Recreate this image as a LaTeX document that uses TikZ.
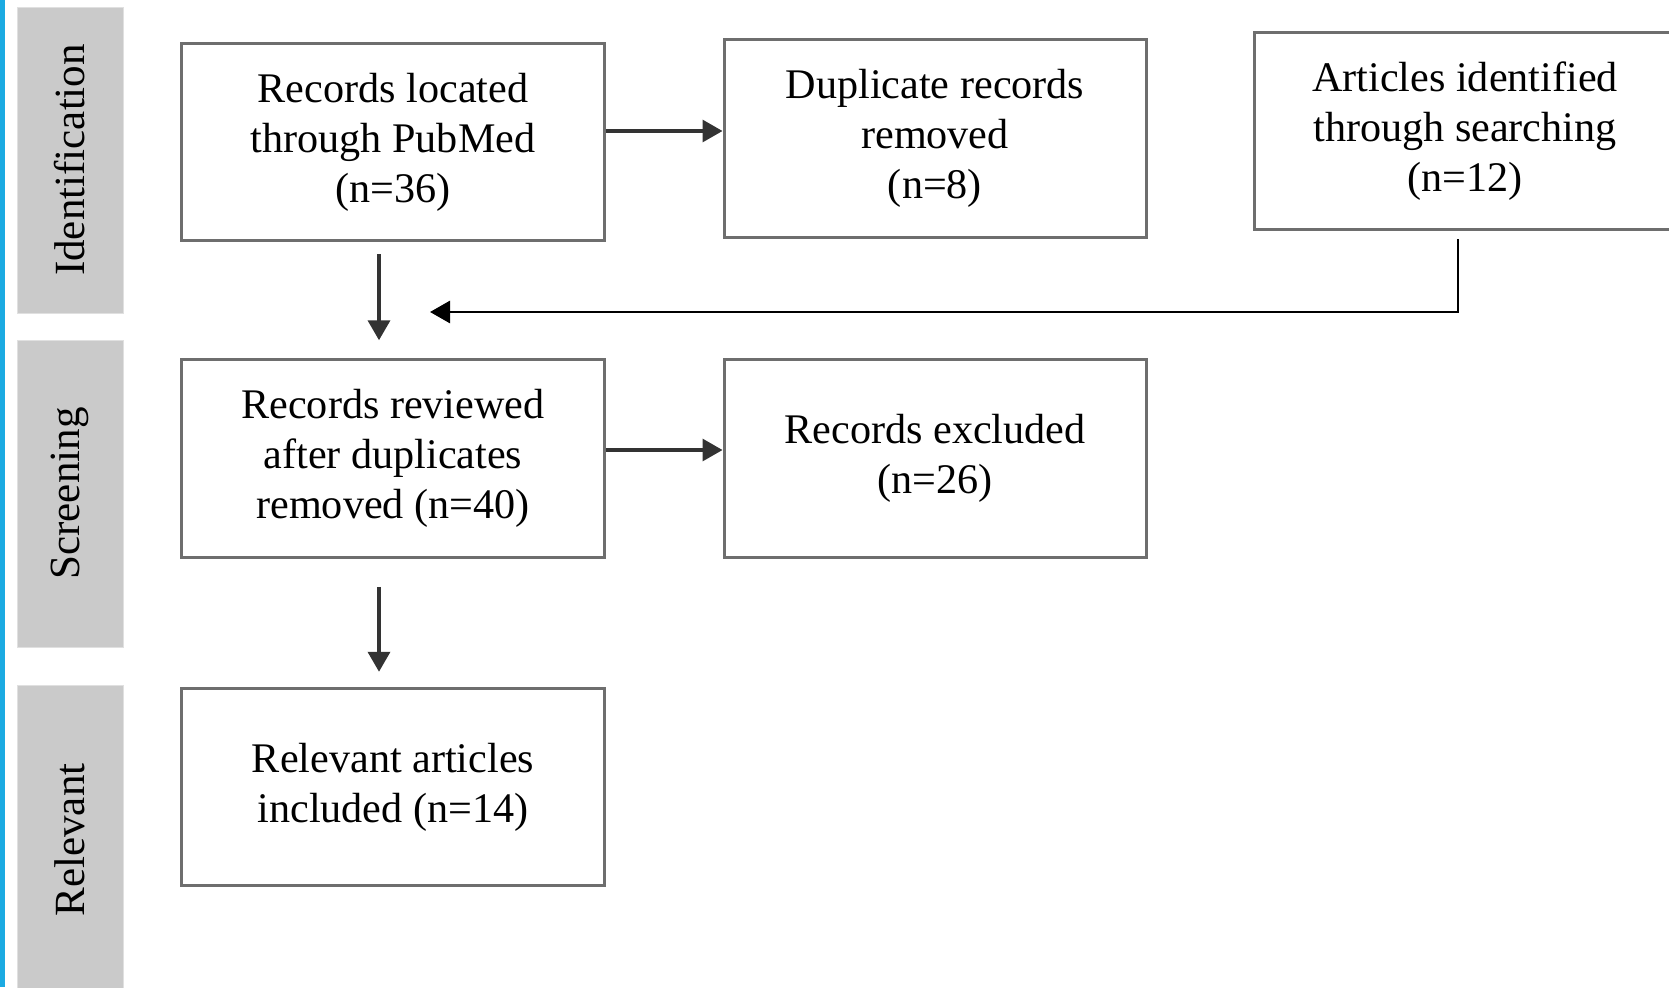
\documentclass[tikz,border=0pt]{standalone}
\usepackage{fontspec}
\setmainfont{Liberation Serif}
\usepackage{xcolor}
\usetikzlibrary{arrows.meta,calc,positioning}
\definecolor{edgeblue}{RGB}{27,170,226}
\definecolor{boxgray}{RGB}{110,110,110}
\definecolor{phasegray}{RGB}{202,202,202}

\begin{document}
\begin{tikzpicture}[
  stagebox/.style={draw=boxgray,line width=1.7pt,fill=white,minimum width=8.46cm,minimum height=3.95cm,
    align=center,inner sep=0pt,font=\fontsize{24}{28.5}\selectfont},
  phase/.style={fill=phasegray,draw=black!12,line width=0.5pt,
    minimum height=2.12cm,inner sep=0pt,rotate=90,font=\fontsize{24.5}{28}\selectfont},
  arr/.style={line width=1.8pt,draw=black!80,-{Triangle[length=0.4cm,width=0.44cm]}}
]
\useasboundingbox (0,0) rectangle (33.38,-19.74);
\fill[edgeblue] (0,0) rectangle (0.1,-19.74);

% phase labels
\node[phase,minimum width=6.12cm] (idn) at (1.40,-3.20) {Identification};
\node[phase,minimum width=6.14cm] (scr) at (1.40,-9.87) {Screening};
\node[phase,minimum width=6.20cm] (rel) at (1.40,-16.80) {Relevant};

% boxes
\node[stagebox] (locate) at (7.86,-2.84) {Records located\\through PubMed\\(n=36)};
\node[stagebox,minimum width=8.44cm] (dupl) at (18.70,-2.77) {Duplicate records\\removed\\(n=8)};
\node[stagebox,minimum width=8.44cm] (search) at (29.30,-2.62) {Articles identified\\through searching\\(n=12)};
\node[stagebox] (review) at (7.86,-9.17) {Records reviewed\\after duplicates\\removed (n=40)};
\node[stagebox,minimum width=8.44cm] (excl) at (18.70,-9.17) {Records excluded\\(n=26)};
\node[stagebox] (incl) at (7.86,-15.74) {Relevant articles\\included (n=14)};

% connectors
\coordinate (merge) at (8.60,-6.24);
\draw[arr] ([yshift=0.22cm]locate.east) -- ([yshift=0.22cm]locate.east -| dupl.west);
\draw[arr] ([yshift=0.17cm]review.east) -- ([yshift=0.17cm]review.east -| excl.west);
\draw[arr,line width=2.1pt] ([xshift=-0.28cm,yshift=-0.24cm]locate.south) -- ([xshift=-0.28cm,yshift=0.36cm]review.north);
\draw[arr,line width=2.1pt] ([xshift=-0.28cm,yshift=-0.56cm]review.south) -- ([xshift=-0.28cm,yshift=0.30cm]incl.north);
\draw[arr,draw=black,line width=1.6pt] ([xshift=-0.14cm,yshift=-0.16cm]search.south) |- (merge);
\end{tikzpicture}
\end{document}
